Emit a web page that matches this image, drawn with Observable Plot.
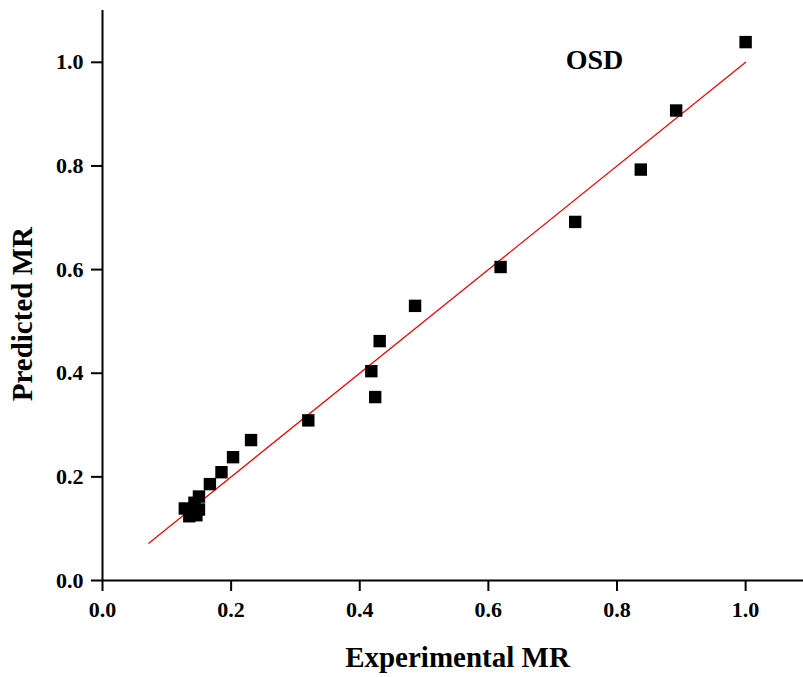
<!DOCTYPE html>
<html>
<head>
<meta charset="utf-8">
<script src="https://cdn.jsdelivr.net/npm/d3@7"></script>
<script src="https://cdn.jsdelivr.net/npm/@observablehq/plot@0.6"></script>
<style>
  html, body { margin: 0; padding: 0; background: #ffffff; }
  svg { display: block; }
</style>
</head>
<body>
<div id="chart"></div>
<script>
const experimental = [1.000, 0.892, 0.837, 0.735, 0.619, 0.486, 0.431, 0.418, 0.424, 0.320, 0.231, 0.203, 0.185, 0.167, 0.150, 0.128, 0.135, 0.146, 0.150, 0.143];
const predicted    = [1.039, 0.907, 0.793, 0.692, 0.605, 0.530, 0.462, 0.404, 0.354, 0.309, 0.271, 0.238, 0.209, 0.186, 0.162, 0.139, 0.124, 0.126, 0.137, 0.150];
const fitX = [0.072, 1.0];
const fitY = [0.072, 1.0];
const tickValues = [0, 0.2, 0.4, 0.6, 0.8, 1.0];
const labelText = "OSD";
const xTitle = "Experimental MR";
const yTitle = "Predicted MR";

const points = experimental.map((x, i) => ({x, y: predicted[i]}));
const fit = fitX.map((x, i) => ({x, y: fitY[i]}));

const font = "'Liberation Serif', 'Times New Roman', serif";

const chart = Plot.plot({
  width: 803,
  height: 677,
  marginLeft: 102,
  marginRight: 0,
  marginTop: 10,
  marginBottom: 97,
  style: {fontFamily: font, background: "#ffffff"},
  x: {domain: [0, 1.09]},
  y: {domain: [0, 1.1]},
  marks: [
    Plot.axisX({ticks: tickValues, tickFormat: d3.format(".1f"), tickSize: 11, tickPadding: 10, fontSize: 22, fontWeight: "bold", stroke: "#000", strokeWidth: 2, label: null, fill: "#000"}),
    Plot.axisY({ticks: tickValues, tickFormat: d3.format(".1f"), tickSize: 11, tickPadding: 8, fontSize: 22, fontWeight: "bold", stroke: "#000", strokeWidth: 2, label: null, fill: "#000"}),
    Plot.ruleY([0], {stroke: "#000", strokeWidth: 2}),
    Plot.ruleX([0], {stroke: "#000", strokeWidth: 2}),
    Plot.line(fit, {x: "x", y: "y", stroke: "#ff0000", strokeWidth: 1.3}),
    Plot.dot(points, {x: "x", y: "y", symbol: "square", r: 7, fill: "#000", stroke: "none"}),
    Plot.text([labelText], {x: 0.765, y: 1.004, text: d => d, fontSize: 28, fontWeight: "bold", fill: "#000"}),
    Plot.text([xTitle], {x: () => 0.552, frameAnchor: "bottom", lineAnchor: "middle", dy: 77, text: d => d, fontSize: 29, fontWeight: "bold", fill: "#000"}),
    Plot.text([yTitle], {y: () => 0.514, frameAnchor: "left", textAnchor: "middle", lineAnchor: "middle", dx: -80, rotate: -90, text: d => d, fontSize: 29, fontWeight: "bold", fill: "#000"})
  ]
});
document.getElementById("chart").appendChild(chart);
</script>
</body>
</html>
